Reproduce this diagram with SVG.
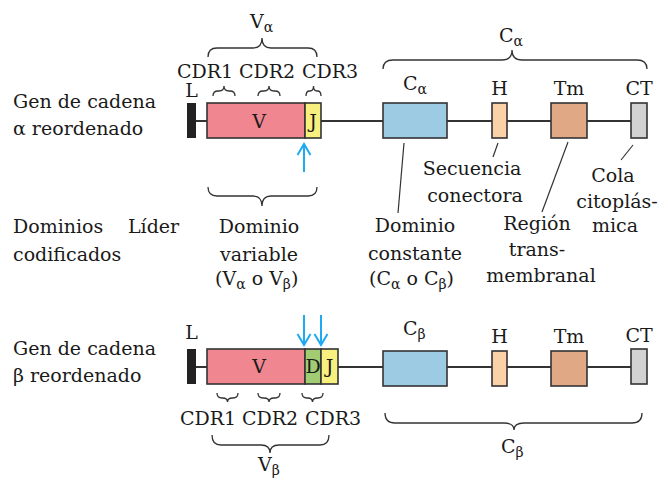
<svg xmlns="http://www.w3.org/2000/svg" width="668" height="483" viewBox="0 0 668 483">
<defs>
<marker id="ah" markerUnits="userSpaceOnUse" markerWidth="14" markerHeight="16" viewBox="0 -8 14 16" refX="12" refY="0" orient="auto">
<path d="M1,-6.5 L12,0 L1,6.5" fill="none" stroke="#1eaaf0" stroke-width="2"/>
</marker>
</defs>
<style>
text{font-family:"DejaVu Serif","Liberation Serif",serif;font-size:19px;fill:#1a1a1a}
.c{text-anchor:middle}
.sub{font-size:14px}
.box{stroke:#333;stroke-width:1.6}
.bb{fill:none;stroke:#333;stroke-width:1.3}
.ln{stroke:#333;stroke-width:2;fill:none}
.ld{stroke:#333;stroke-width:1.2;fill:none}
.ar{stroke:#1eaaf0;stroke-width:2;fill:none;marker-end:url(#ah)}
.V{fill:#f08690}.J{fill:#f8f07e}.D{fill:#a2cc72}.C{fill:#9ccbe3}.H{fill:#fbd2a8}.T{fill:#e1a886}.CT{fill:#d2d2d2}.L{fill:#222}
</style>

<g id="connectors">
<line class="ln" x1="196" y1="121" x2="631" y2="121"/>
<line class="ln" x1="196" y1="367" x2="631" y2="367"/>
<line class="ld" x1="404" y1="143" x2="398" y2="213"/>
<line class="ld" x1="498" y1="143" x2="493" y2="157"/>
<line class="ld" x1="568" y1="142" x2="542" y2="212"/>
<line class="ld" x1="633" y1="145" x2="621" y2="160"/>
<line class="ar" x1="304" y1="172" x2="304" y2="144"/>
<line class="ar" x1="304" y1="315" x2="304" y2="345"/>
<line class="ar" x1="321" y1="315" x2="321" y2="345"/>
</g>

<g id="labels-left">
<text x="13" y="108">Gen de cadena</text>
<text x="13" y="135">α reordenado</text>
<text x="13" y="233">Dominios</text>
<text x="128" y="233">Líder</text>
<text x="13" y="261">codificados</text>
<text x="13" y="355">Gen de cadena</text>
<text x="13" y="382">β reordenado</text>
</g>

<g id="alpha-L"><rect class="L" x="187" y="103" width="9" height="35"/><text class="c" x="191.5" y="97">L</text></g>
<g id="alpha-V"><rect class="box V" x="207" y="103" width="98" height="35"/><text class="c" x="259" y="128">V</text></g>
<g id="alpha-J"><rect class="box J" x="305" y="103" width="16" height="35"/><text class="c" x="313" y="128">J</text></g>
<g id="alpha-C"><rect class="box C" x="383" y="103" width="64" height="35"/><text x="403" y="90">C<tspan class="sub" dy="4">α</tspan></text></g>
<g id="alpha-H"><rect class="box H" x="492" y="103" width="15" height="35"/><text class="c" x="499.5" y="95">H</text></g>
<g id="alpha-Tm"><rect class="box T" x="551" y="103" width="36" height="35"/><text class="c" x="569" y="95">Tm</text></g>
<g id="alpha-CT"><rect class="box CT" x="631" y="103" width="16" height="35"/><text class="c" x="639" y="95">CT</text></g>

<g id="beta-L"><rect class="L" x="187" y="349" width="9" height="35"/><text class="c" x="191.5" y="339">L</text></g>
<g id="beta-V"><rect class="box V" x="207" y="349" width="98" height="35"/><text class="c" x="259" y="373">V</text></g>
<g id="beta-D"><rect class="box D" x="305" y="349" width="16" height="35"/><text class="c" x="313" y="373">D</text></g>
<g id="beta-J"><rect class="box J" x="321" y="349" width="17" height="35"/><text class="c" x="329.5" y="373">J</text></g>
<g id="beta-C"><rect class="box C" x="383" y="351" width="64" height="35"/><text x="403" y="335">C<tspan class="sub" dy="4">β</tspan></text></g>
<g id="beta-H"><rect class="box H" x="492" y="351" width="15" height="35"/><text class="c" x="499.5" y="343">H</text></g>
<g id="beta-Tm"><rect class="box T" x="551" y="351" width="36" height="35"/><text class="c" x="569" y="343">Tm</text></g>
<g id="beta-CT"><rect class="box CT" x="631" y="349" width="16" height="35"/><text class="c" x="639" y="342">CT</text></g>

<g id="braces">
<path class="bb" d="M208,57 Q208,48 217,48 L253,48 Q262,48 262,38 Q262,48 271,48 L308,48 Q317,48 317,57"/>
<path class="bb" d="M383,69 Q383,60 393,60 L502,60 Q512,60 512,50 Q512,60 522,60 L637,60 Q647,60 647,69"/>
<path class="bb" d="M208,187 Q208,196 217,196 L253,196 Q262,196 262,206 Q262,196 271,196 L308,196 Q317,196 317,187"/>
<path class="bb" d="M213,96 Q213,91 218,91 L219,91 Q224,91 224,86 Q224,91 229,91 L230,91 Q235,91 235,96"/>
<path class="bb" d="M258,96 Q258,91 263,91 L264,91 Q269,91 269,86 Q269,91 274,91 L275,91 Q280,91 280,96"/>
<path class="bb" d="M306,96 Q306,91 309.5,91 L310,91 Q313.5,91 313.5,86 Q313.5,91 317,91 L317.5,91 Q321,91 321,96"/>
<path class="bb" d="M217,393 Q217,398 222,398 L222.5,398 Q227.5,398 227.5,402 Q227.5,398 232.5,398 L233,398 Q238,398 238,393"/>
<path class="bb" d="M258,393 Q258,398 263,398 L264,398 Q269,398 269,402 Q269,398 274,398 L275,398 Q280,398 280,393"/>
<path class="bb" d="M302,393 Q302,398 307,398 L307.5,398 Q312.5,398 312.5,402 Q312.5,398 317.5,398 L318,398 Q323,398 323,393"/>
<path class="bb" d="M212,435 Q212,445 221,445 L261,445 Q270,445 270,453 Q270,445 279,445 L320,445 Q329,445 329,435"/>
<path class="bb" d="M385,413 Q385,423 395,423 L504,423 Q514,423 514,430 Q514,423 524,423 L632,423 Q642,423 642,413"/>
</g>

<g id="brace-labels">
<text x="250" y="28">V<tspan class="sub" dy="4">α</tspan></text>
<text x="499" y="42">C<tspan class="sub" dy="4">α</tspan></text>
<text class="c" x="205" y="78">CDR1</text>
<text class="c" x="267" y="78">CDR2</text>
<text class="c" x="330" y="78">CDR3</text>
<text class="c" x="208" y="425">CDR1</text>
<text class="c" x="270" y="425">CDR2</text>
<text class="c" x="333" y="425">CDR3</text>
<text x="258" y="471">V<tspan class="sub" dy="4">β</tspan></text>
<text x="501" y="453">C<tspan class="sub" dy="4">β</tspan></text>
</g>

<g id="domain-labels">
<text class="c" x="259" y="233">Dominio</text>
<text class="c" x="259" y="261">variable</text>
<text x="215" y="285">(V<tspan class="sub" dy="4">α</tspan><tspan dy="-4"> o V</tspan><tspan class="sub" dy="4">β</tspan><tspan dy="-4">)</tspan></text>
<text class="c" x="472" y="175">Secuencia</text>
<text class="c" x="475" y="202">conectora</text>
<text class="c" x="415" y="232">Dominio</text>
<text class="c" x="415" y="260">constante</text>
<text x="369" y="285">(C<tspan class="sub" dy="4">α</tspan><tspan dy="-4"> o C</tspan><tspan class="sub" dy="4">β</tspan><tspan dy="-4">)</tspan></text>
<text class="c" x="537" y="230">Región</text>
<text class="c" x="537" y="256">trans-</text>
<text class="c" x="541" y="282">membranal</text>
<text class="c" x="613" y="182">Cola</text>
<text class="c" x="617" y="208">citoplás-</text>
<text class="c" x="615" y="232">mica</text>
</g>
</svg>
